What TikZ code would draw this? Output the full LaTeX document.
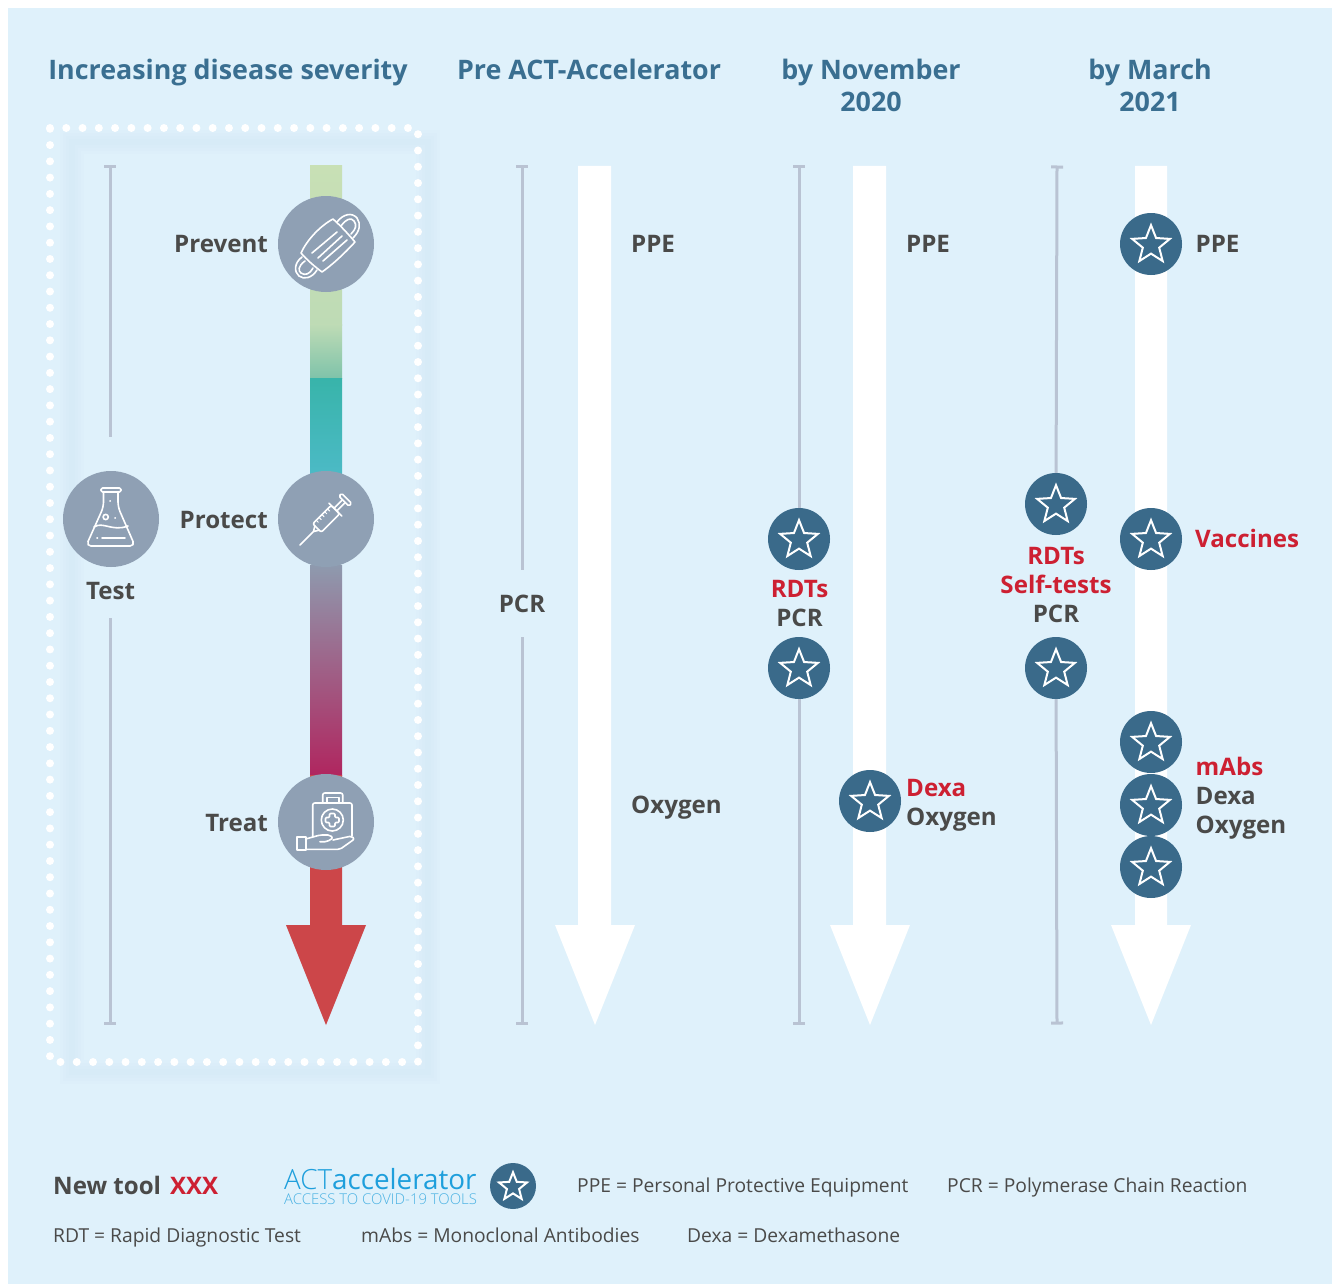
\documentclass[tikz,border=0pt]{standalone}
\usepackage{fontspec}
\setmainfont{Open Sans}
\newfontfamily\logolight{Open Sans Light}
\usetikzlibrary{arrows.meta,shapes.geometric}

\definecolor{bgblue}{HTML}{DFF1FB}
\definecolor{shadeblue}{HTML}{C4DDED}
\definecolor{headblue}{HTML}{3A6F91}
\definecolor{toolblue}{HTML}{3A6A8A}
\definecolor{icongrey}{HTML}{8FA0B4}
\definecolor{axisgrey}{HTML}{B9C3D3}
\definecolor{textgrey}{HTML}{4A4A49}
\definecolor{newred}{HTML}{CD2032}
\definecolor{logoblue}{HTML}{1E9FDC}
\definecolor{treatred}{HTML}{CC4649}

\newcommand{\newtool}[1]{{\color{newred}#1}}

\begin{document}
\begin{tikzpicture}[
		x=1pt, y=-1pt,
		heading/.style={text=headblue, font=\fontsize{26.85}{32}\selectfont\bfseries, align=center},
		label/.style={text=textgrey, font=\fontsize{24.1}{29}\selectfont\bfseries},
		legend/.style={text=textgrey, font=\fontsize{19.25}{24}\selectfont, anchor=base west, inner sep=0pt},
		axisline/.style={draw=axisgrey, line width=3pt},
		framesoft/.style={draw=shadeblue, opacity=0.06},
		iconcircle/.style={circle, fill=icongrey, minimum size=96pt, inner sep=0pt},
		iconline/.style={draw=white, line width=1.6pt, line join=round, line cap=round},
		toolnode/.style={circle, fill=toolblue, minimum size=#1, inner sep=0pt, path picture={
			\node[star, star points=5, star point ratio=2.3, draw=white, fill=none, line width=2pt, inner sep=0pt, minimum size=0.64*#1] at ([yshift=-1pt]path picture bounding box.center) {};
		}},
		toolnode/.default=62pt
	]
	\useasboundingbox (0,0) rectangle (1332,1284);
	\fill[bgblue] (8,8) rectangle (1332,1284);

	% frame
	\draw[framesoft, line width=6pt] (72,142) rectangle (428,1072);
	\draw[framesoft, line width=12pt] (72,142) rectangle (428,1072);
	\draw[framesoft, line width=18pt] (72,142) rectangle (428,1072);
	\draw[framesoft, line width=24pt] (72,142) rectangle (428,1072);
	\draw[white, line width=8pt, line cap=round, dash pattern=on 0pt off 16.27pt] (50,128) -- (418,128) -- (418,1062) -- (50,1062) -- cycle;

	% headings
	\node[heading, anchor=base] (severity) at (228,80) {Increasing disease severity};
	\node[heading, anchor=base] (pre) at (589,80) {Pre ACT-Accelerator};
	\node[heading, anchor=base] (november) at (871,112) {by November\\2020};
	\node[heading, anchor=base] (march) at (1150,112) {by March\\2021};

	% severity arrow
	\fill[top color={rgb,255:red,200;green,224;blue,181}, bottom color={rgb,255:red,190;green,219;blue,181}] (310,166) rectangle (342,325);
	\fill[top color={rgb,255:red,190;green,219;blue,181}, bottom color={rgb,255:red,127;green,195;blue,170}] (310,324.5) rectangle (342,378);
	\fill[top color={rgb,255:red,56;green,180;blue,170}, bottom color={rgb,255:red,76;green,186;blue,198}] (310,378) rectangle (342,475);
	\fill[top color={rgb,255:red,142;green,154;blue,174}, bottom color={rgb,255:red,176;green,38;blue,95}] (310,565) rectangle (342,775);
	\fill[treatred] (310,775) -- (342,775) -- (342,925) -- (366,925) -- (326,1025) -- (286,925) -- (310,925) -- cycle;

	% white arrows
	\fill[white] (578,166) -- (611,166) -- (611,925) -- (635,925) -- (595,1025) -- (555,925) -- (578,925) -- cycle;
	\fill[white] (853,166) -- (886,166) -- (886,925) -- (910,925) -- (870,1025) -- (830,925) -- (853,925) -- cycle;
	\fill[white] (1135,166) -- (1167,166) -- (1167,925) -- (1191,925) -- (1151,1025) -- (1111,925) -- (1135,925) -- cycle;

	% icon nodes
	\node[iconcircle] (prevent) at (326,244) {};
	\node[iconcircle] (protect) at (326,519) {};
	\node[iconcircle] (treat) at (326,822) {};
	\node[iconcircle] (test) at (111,519) {};

	\node[label, anchor=base east, inner sep=0pt] (preventlabel) at (268,252) {Prevent};
	\node[label, anchor=base east, inner sep=0pt] (protectlabel) at (268,528) {Protect};
	\node[label, anchor=base east, inner sep=0pt] (treatlabel) at (268,831) {Treat};
	\node[label, anchor=base, inner sep=0pt] (testlabel) at (110.5,599) {Test};

	% mask
	\draw[iconline] (333,219) .. controls (342,227) and (349,235) .. (355,242) .. controls (344,254) and (332,265) .. (322,272) .. controls (314,266) and (307,260) .. (301,253) .. controls (307,240) and (320,226) .. (333,219) -- cycle;
	\draw[iconline] (337,232) -- (312,253) (342,236) -- (318,258) (347,240) -- (323,261);
	\draw[iconline] (337,222) .. controls (343,214) and (352,212) .. (357,218) .. controls (361,224) and (360,231) .. (353,238);
	\draw[iconline] (341,226) .. controls (346,219) and (351,217) .. (354,221) .. controls (357,225) and (356,229) .. (351,234);
	\draw[iconline] (302,257) .. controls (294,263) and (294,272) .. (299,276) .. controls (304,280) and (312,278) .. (317,270);
	\draw[iconline] (305,261) .. controls (298,266) and (298,271) .. (301,273) .. controls (305,276) and (310,274) .. (313,268);

	% flask
	\draw[iconline, rounded corners=1.5pt] (101,488) rectangle (121,492);
	\draw[iconline, rounded corners=5pt] (103.5,492) -- (103.5,507) -- (86,546) -- (135,546) -- (118,507) -- (118,492);
	\draw[iconline] (94,527) .. controls (103,521) and (112,532) .. (128,526);
	\draw[iconline] (102,538) -- (125,538) (97,538) -- (97.5,538) (110,501) -- (110.3,501) (115,518) -- (115.3,518);
	\draw[iconline] (105.7,517) circle (2.6);

	% syringe
	\begin{scope}[shift={(300,545)}, rotate=45]
		\draw[iconline] (0,0) -- (19,0) -- (24,-3) (19,0) -- (24,3);
		\draw[iconline, rounded corners=2pt] (24,-6) rectangle (50,6);
		\draw[iconline] (50,-9) -- (50,9) (50,-2) -- (62,-2) (50,2) -- (62,2);
		\draw[iconline, rounded corners=1.5pt] (62,-7) rectangle (66,7);
		\draw[iconline, line width=1pt] (29,-6) -- (29,-3) (33,-6) -- (33,-3) (37,-6) -- (37,-3) (41,-6) -- (41,-3) (45,-6) -- (45,-3);
	\end{scope}

	% medical kit
	\draw[iconline, rounded corners=2pt] (322.7,803) -- (322.7,793) -- (342.7,793) -- (342.7,803);
	\draw[iconline] (326.7,803) -- (326.7,797.5) -- (338.7,797.5) -- (338.7,803);
	\draw[iconline, rounded corners=2pt] (312.7,837) -- (312.7,803) -- (352,803) -- (352,836);
	\draw[iconline] (332.3,820) circle (11);
	\draw[iconline, rounded corners=1pt] (329.5,813.5) -- (335,813.5) -- (335,817.5) -- (339,817.5) -- (339,822.5) -- (335,822.5) -- (335,826.5) -- (329.5,826.5) -- (329.5,822.5) -- (325.5,822.5) -- (325.5,817.5) -- (329.5,817.5) -- cycle;
	\draw[iconline] (297,836.7) rectangle (305.7,850);
	\draw[iconline, rounded corners=2pt] (305.7,839) -- (320,835) -- (330,835) -- (333,838) -- (327,841.7) -- (320,841.7);
	\draw[iconline, rounded corners=2pt] (333,840) -- (351.7,836) -- (354.5,839) -- (340,849.3) -- (305.7,849.3);

	% test axes
	\coordinate (testtop) at (110,165.5);
	\coordinate (testup) at (110,437);
	\coordinate (testdown) at (110,618);
	\coordinate (testbottom) at (110,1024.5);
	\draw[axisline, {Bar[width=12pt]}-] (testtop) -- (testup);
	\draw[axisline, -{Bar[width=12pt]}] (testdown) -- (testbottom);

	\coordinate (pretop) at (522,165.5);
	\coordinate (preup) at (522,570);
	\coordinate (predown) at (522,637);
	\coordinate (prebottom) at (522,1024.5);
	\draw[axisline, {Bar[width=12pt]}-] (pretop) -- (preup);
	\draw[axisline, -{Bar[width=12pt]}] (predown) -- (prebottom);
	\node[label, anchor=base, inner sep=0pt] (prepcr) at (522,612) {PCR};

	\coordinate (novtop) at (799,165.5);
	\coordinate (novbottom) at (799,1024.5);
	\node[toolnode] (novrdt) at (799,539) {};
	\node[toolnode] (novpcr) at (799,668) {};
	\draw[axisline, {Bar[width=12pt]}-] (novtop) -- (novrdt);
	\draw[axisline, -{Bar[width=12pt]}] (novpcr) -- (novbottom);
	\node[label, align=center, inner sep=0pt, anchor=base] (novtests) at (799.5,626) {\newtool{RDTs}\\PCR};

	\coordinate (martop) at (1057,165.5);
	\coordinate (marbottom) at (1057,1024.5);
	\node[toolnode] (marrdt) at (1056,504) {};
	\node[toolnode] (marpcr) at (1056,668) {};
	\draw[axisline, {Bar[width=12pt]}-] (martop) -- (marrdt);
	\draw[axisline, -{Bar[width=12pt]}] (marpcr) -- (marbottom);
	\node[label, align=center, inner sep=0pt, anchor=base] (martests) at (1056,622) {\newtool{RDTs}\\\newtool{Self-tests}\\PCR};

	% tools along the arrows
	\node[label, anchor=base west, inner sep=0pt] (preppe) at (631,252) {PPE};
	\node[label, anchor=base west, inner sep=0pt] (preoxygen) at (631,813) {Oxygen};

	\node[label, anchor=base west, inner sep=0pt] (novppe) at (906,252) {PPE};
	\node[toolnode] (novdexa) at (870,801) {};
	\node[label, anchor=base west, inner sep=0pt, align=left] (novtreat) at (906,825) {\newtool{Dexa}\\Oxygen};

	\node[toolnode] (marppe) at (1151,244) {};
	\node[label, anchor=base west, inner sep=0pt] (marppelabel) at (1195.5,252) {PPE};
	\node[toolnode] (marvaccine) at (1151,539) {};
	\node[label, anchor=base west, inner sep=0pt] (marvaccinelabel) at (1195,547) {\newtool{Vaccines}};
	\node[toolnode] (marmabs) at (1151,742) {};
	\node[toolnode] (mardexa) at (1151,805) {};
	\node[toolnode] (maroxygen) at (1151,867) {};
	\node[label, anchor=base west, inner sep=0pt, align=left] (martreat) at (1195.5,833) {\newtool{mAbs}\\Dexa\\Oxygen};

	% legend
	\node[label, anchor=base west, inner sep=0pt] (newtool) at (53,1194) {New tool\hspace{9pt}\newtool{XXX}};
	\node[anchor=base west, inner sep=0pt, text=logoblue, font=\fontsize{27.8}{32}\selectfont] (logo) at (284,1189) {{\logolight ACT}accelerator};
	\node[anchor=base west, inner sep=0pt, text=logoblue!80, font=\fontsize{14.9}{18}\logolight] (logosub) at (284,1204) {ACCESS TO COVID-19 TOOLS};
	\node[toolnode=46pt] (legendstar) at (513,1186) {};
	\node[legend] (ppe) at (577,1192) {PPE = Personal Protective Equipment};
	\node[legend] (pcr) at (947,1192) {PCR = Polymerase Chain Reaction};
	\node[legend] (rdt) at (53,1242) {RDT = Rapid Diagnostic Test};
	\node[legend] (mabs) at (361,1242) {mAbs = Monoclonal Antibodies};
	\node[legend] (dexa) at (687,1242) {Dexa = Dexamethasone};
\end{tikzpicture}
\end{document}
